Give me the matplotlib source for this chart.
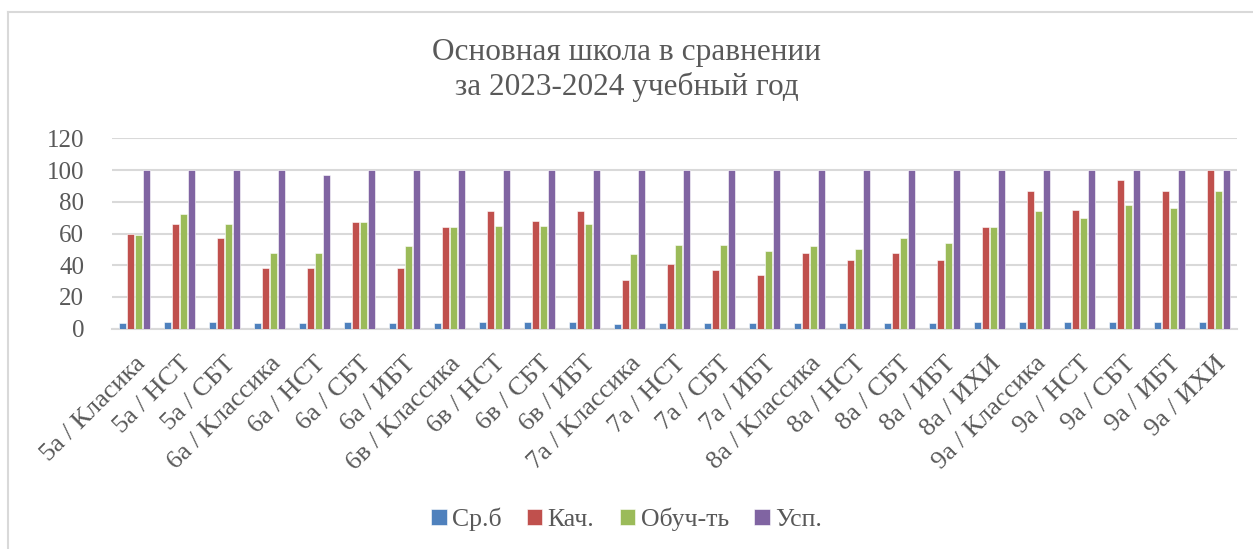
import numpy as np
import matplotlib.pyplot as plt
from matplotlib.lines import Line2D

plt.rcParams['font.family'] = ['Liberation Serif', 'DejaVu Serif']

categories = ['5а / Класика', '5а / НСТ', '5а / СБТ', '6а / Классика', '6а / НСТ',
              '6а / СБТ', '6а / ИБТ', '6в / Классика', '6в / НСТ', '6в / СБТ',
              '6в / ИБТ', '7а / Классика', '7а / НСТ', '7а / СБТ', '7а / ИБТ',
              '8а / Классика', '8а / НСТ', '8а / СБТ', '8а / ИБТ', '8а / ИХИ',
              '9а / Классика', '9а / НСТ', '9а / СБТ', '9а / ИБТ', '9а / ИХИ']

sr_b = [3.8, 4.0, 4.0, 3.5, 3.5, 4.0, 3.6, 3.9, 4.0, 4.0, 4.0, 3.2, 3.4,
        3.5, 3.4, 3.6, 3.4, 3.6, 3.6, 4.0, 4.1, 4.0, 4.2, 4.2, 4.5]
kach = [60, 66, 57, 38, 38, 67, 38, 64, 74, 68, 74, 31, 41,
        37, 34, 48, 43, 48, 43, 64, 87, 75, 94, 87, 100]
obuch = [59, 72, 66, 48, 48, 67, 52, 64, 65, 65, 66, 47, 53,
         53, 49, 52, 50, 57, 54, 64, 74, 70, 78, 76, 87]
usp = [100, 100, 100, 100, 97, 100, 100, 100, 100, 100, 100, 100, 100,
       100, 100, 100, 100, 100, 100, 100, 100, 100, 100, 100, 100]

series = [('Ср.б', sr_b, '#4F81BD'), ('Кач.', kach, '#C0504D'),
          ('Обуч-ть', obuch, '#9BBB59'), ('Усп.', usp, '#8064A2')]

txt = '#595959'
fig = plt.figure(figsize=(12.53, 5.49), dpi=100)
ax = fig.add_axes([112/1253, 1 - 328.7/549, 1125/1253, 190.4/549])

x = np.arange(len(categories))
slot = 0.178
for i, (name, vals, col) in enumerate(series):
    ax.bar(x + (i - 1.5) * slot, vals, width=0.145, color=col,
           edgecolor='white', linewidth=0.4, label=name, zorder=3)

ax.set_xlim(-0.5, len(categories) - 0.5)
ax.set_ylim(0, 120)
ax.set_yticks(range(0, 121, 20))
ax.grid(axis='y', color='#D9D9D9', linewidth=1.5, zorder=0)
for s in ['top', 'right', 'left']:
    ax.spines[s].set_visible(False)
ax.spines['bottom'].set_color('#D9D9D9')
ax.spines['bottom'].set_linewidth(1.5)
ax.tick_params(length=0, colors=txt, labelsize=18)
ax.tick_params(axis='y', pad=20)
ax.set_xticks(x)
ax.set_xticklabels(categories, rotation=45, ha='right', va='top',
                   rotation_mode='anchor', fontsize=19, color=txt)
ax.tick_params(axis='x', pad=17)

fig.text(0.5, 1 - 70/549, 'Основная школа в сравнении\nза 2023-2024 учебный год',
         ha='center', va='center', fontsize=22.5, color=txt, linespacing=1.2)

leg = fig.legend(loc='center', bbox_to_anchor=(0.5, 1 - 519/549), ncol=4,
                 frameon=False, fontsize=18.5, handlelength=0.6, handleheight=0.6,
                 handletextpad=0.2, columnspacing=1.0)
for t in leg.get_texts():
    t.set_color(txt)

# chart border
fig.add_artist(Line2D([8/1253, 8/1253], [0, 1 - 12/549], color='#D9D9D9', lw=1.5))
fig.add_artist(Line2D([8/1253, 1], [1 - 12/549, 1 - 12/549], color='#D9D9D9', lw=1.5))

fig.savefig('out.png', dpi=100)
